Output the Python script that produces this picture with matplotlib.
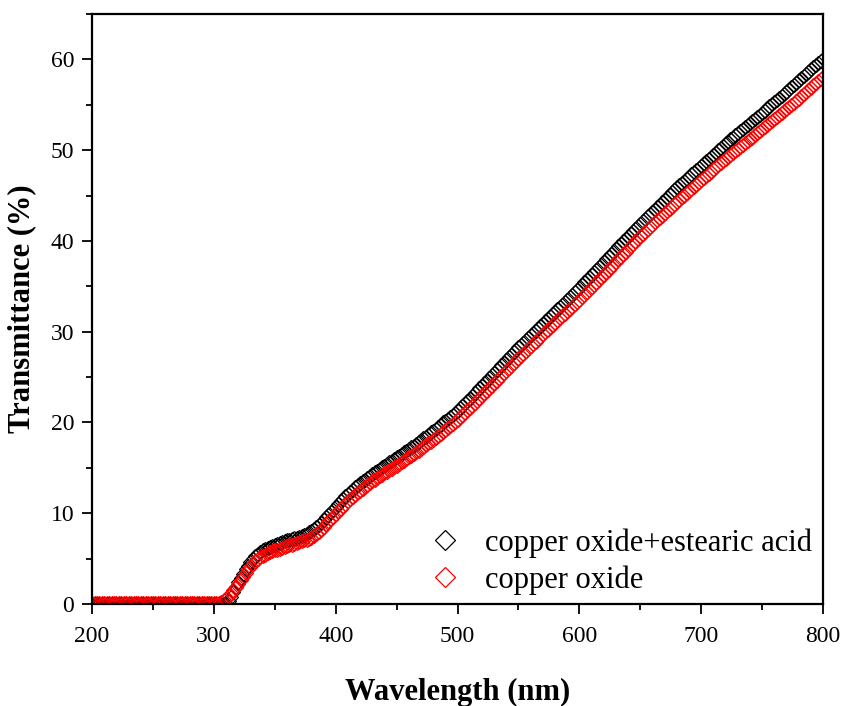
import numpy as np
import matplotlib
matplotlib.use("Agg")
from matplotlib import pyplot as plt
from matplotlib.ticker import MultipleLocator

plt.rcParams["font.family"] = "serif"
plt.rcParams["font.serif"] = ["Liberation Serif", "DejaVu Serif"]

# wavelength grid, 2 nm sampling (200 ... 800 nm)
wavelength = np.arange(200, 802, 2)

# copper oxide + estearic acid (black), one row = 20 nm
trans_cuo_sa = [
    0.0, 0.0, 0.0, 0.0, 0.0, 0.0, 0.0, 0.0, 0.0, 0.0,
    0.0, 0.0, 0.0, 0.0, 0.0, 0.0, 0.0, 0.0, 0.0, 0.0,
    0.0, 0.0, 0.0, 0.0, 0.0, 0.0, 0.0, 0.0, 0.0, 0.0,
    0.0, 0.0, 0.0, 0.0, 0.0, 0.0, 0.0, 0.0, 0.0, 0.0,
    0.0, 0.0, 0.0, 0.0, 0.0, 0.0, 0.0, 0.0, 0.0, 0.0,
    0.0, 0.0, 0.0, 0.0, 0.0, 0.05, 0.3, 0.8, 1.3, 1.85,
    2.4, 2.9, 3.35, 3.8, 4.2, 4.6, 4.95, 5.25, 5.5, 5.7,
    5.9, 6.05, 6.2, 6.3, 6.4, 6.5, 6.6, 6.7, 6.8, 6.9,
    7.0, 7.1, 7.15, 7.25, 7.3, 7.4, 7.5, 7.6, 7.75, 7.9,
    8.05, 8.25, 8.45, 8.7, 8.95, 9.25, 9.55, 9.85, 10.1, 10.4,
    10.7, 11.0, 11.3, 11.6, 11.85, 12.1, 12.35, 12.6, 12.85, 13.1,
    13.3, 13.5, 13.7, 13.9, 14.1, 14.3, 14.5, 14.7, 14.9, 15.05,
    15.25, 15.4, 15.6, 15.8, 16.0, 16.15, 16.3, 16.5, 16.7, 16.85,
    17.05, 17.25, 17.45, 17.65, 17.85, 18.05, 18.25, 18.45, 18.65, 18.9,
    19.1, 19.3, 19.55, 19.75, 20.0, 20.2, 20.4, 20.65, 20.85, 21.1,
    21.3, 21.55, 21.85, 22.1, 22.35, 22.6, 22.9, 23.2, 23.45, 23.75,
    24.05, 24.3, 24.6, 24.9, 25.2, 25.5, 25.75, 26.05, 26.35, 26.6,
    26.9, 27.2, 27.45, 27.75, 28.0, 28.3, 28.55, 28.8, 29.1, 29.35,
    29.6, 29.85, 30.1, 30.4, 30.65, 30.9, 31.15, 31.4, 31.7, 31.95,
    32.2, 32.5, 32.75, 33.0, 33.3, 33.55, 33.8, 34.05, 34.35, 34.6,
    34.85, 35.15, 35.45, 35.7, 36.0, 36.3, 36.6, 36.85, 37.15, 37.4,
    37.7, 38.0, 38.25, 38.55, 38.8, 39.1, 39.4, 39.65, 39.95, 40.2,
    40.5, 40.8, 41.05, 41.35, 41.6, 41.9, 42.15, 42.4, 42.7, 42.95,
    43.2, 43.45, 43.75, 44.0, 44.3, 44.55, 44.8, 45.1, 45.35, 45.65,
    45.9, 46.15, 46.4, 46.6, 46.85, 47.1, 47.35, 47.6, 47.8, 48.05,
    48.3, 48.55, 48.8, 49.0, 49.25, 49.5, 49.75, 50.0, 50.25, 50.5,
    50.75, 50.95, 51.2, 51.4, 51.65, 51.85, 52.1, 52.3, 52.55, 52.75,
    53.0, 53.2, 53.45, 53.65, 53.9, 54.1, 54.35, 54.6, 54.85, 55.1,
    55.35, 55.55, 55.8, 56.0, 56.25, 56.45, 56.7, 56.95, 57.2, 57.45,
    57.7, 57.95, 58.2, 58.4, 58.65, 58.9, 59.15, 59.4, 59.6, 59.85,
    60.1,
]

# copper oxide (red)
trans_cuo = [
    0.1, 0.1, 0.1, 0.1, 0.1, 0.1, 0.1, 0.1, 0.1, 0.1,
    0.1, 0.1, 0.1, 0.1, 0.1, 0.1, 0.1, 0.1, 0.1, 0.1,
    0.1, 0.1, 0.1, 0.1, 0.1, 0.1, 0.1, 0.1, 0.1, 0.1,
    0.1, 0.1, 0.1, 0.1, 0.1, 0.1, 0.1, 0.1, 0.1, 0.1,
    0.1, 0.1, 0.1, 0.1, 0.1, 0.1, 0.1, 0.1, 0.1, 0.1,
    0.1, 0.1, 0.15, 0.25, 0.4, 0.6, 0.9, 1.2, 1.55, 1.9,
    2.2, 2.6, 3.0, 3.4, 3.8, 4.1, 4.4, 4.7, 4.95, 5.15,
    5.3, 5.45, 5.6, 5.7, 5.8, 5.9, 6.0, 6.1, 6.2, 6.3,
    6.4, 6.5, 6.55, 6.65, 6.7, 6.8, 6.9, 7.0, 7.1, 7.2,
    7.3, 7.5, 7.7, 7.95, 8.2, 8.5, 8.8, 9.1, 9.35, 9.6,
    9.9, 10.2, 10.5, 10.8, 11.05, 11.3, 11.55, 11.8, 12.05, 12.3,
    12.5, 12.7, 12.9, 13.1, 13.3, 13.5, 13.7, 13.85, 14.05, 14.2,
    14.4, 14.55, 14.75, 14.9, 15.1, 15.25, 15.4, 15.6, 15.8, 15.95,
    16.15, 16.35, 16.55, 16.7, 16.9, 17.1, 17.3, 17.5, 17.7, 17.9,
    18.1, 18.3, 18.55, 18.75, 19.0, 19.2, 19.4, 19.65, 19.85, 20.1,
    20.3, 20.55, 20.8, 21.1, 21.35, 21.6, 21.85, 22.15, 22.4, 22.7,
    22.95, 23.2, 23.5, 23.75, 24.05, 24.3, 24.6, 24.85, 25.15, 25.4,
    25.7, 26.0, 26.25, 26.55, 26.8, 27.1, 27.35, 27.6, 27.9, 28.15,
    28.4, 28.65, 28.9, 29.2, 29.45, 29.7, 29.95, 30.2, 30.5, 30.75,
    31.0, 31.25, 31.5, 31.75, 32.0, 32.25, 32.5, 32.75, 33.05, 33.3,
    33.55, 33.8, 34.1, 34.35, 34.65, 34.9, 35.2, 35.45, 35.75, 36.0,
    36.3, 36.6, 36.85, 37.15, 37.4, 37.7, 38.0, 38.25, 38.55, 38.8,
    39.1, 39.4, 39.65, 39.95, 40.2, 40.5, 40.75, 41.0, 41.3, 41.55,
    41.8, 42.05, 42.3, 42.55, 42.8, 43.05, 43.3, 43.55, 43.8, 44.05,
    44.3, 44.55, 44.8, 45.0, 45.25, 45.5, 45.75, 46.0, 46.2, 46.45,
    46.7, 46.95, 47.2, 47.4, 47.65, 47.9, 48.15, 48.4, 48.6, 48.85,
    49.05, 49.25, 49.5, 49.7, 49.95, 50.15, 50.35, 50.55, 50.8, 51.0,
    51.2, 51.4, 51.65, 51.85, 52.1, 52.3, 52.55, 52.75, 53.0, 53.2,
    53.45, 53.65, 53.9, 54.1, 54.35, 54.55, 54.8, 55.0, 55.25, 55.45,
    55.7, 55.95, 56.2, 56.4, 56.65, 56.9, 57.15, 57.4, 57.6, 57.85,
    58.1,
]

labels = ["copper oxide+estearic acid", "copper oxide"]
colors = ["black", "red"]

fig = plt.figure(figsize=(8.45, 7.06), dpi=100)
ax = fig.add_axes([0.109, 0.1445, 0.865, 0.8355])

for y, lab, col in zip([trans_cuo_sa, trans_cuo], labels, colors):
    ax.plot(wavelength, y, linestyle="none", marker="D", markersize=7.3,
            markerfacecolor="none", markeredgecolor=col, markeredgewidth=0.85,
            label=lab)

ax.set_xlim(200, 800)
ax.set_ylim(0, 65)
ax.xaxis.set_major_locator(MultipleLocator(100))
ax.xaxis.set_minor_locator(MultipleLocator(50))
ax.yaxis.set_major_locator(MultipleLocator(10))
ax.yaxis.set_minor_locator(MultipleLocator(5))

for s in ax.spines.values():
    s.set_linewidth(1.6)
ax.tick_params(which="major", direction="out", length=7, width=1.3, labelsize=17)
ax.tick_params(which="minor", direction="out", length=4, width=1.3)
ax.tick_params(axis="x", which="major", pad=9)
ax.tick_params(axis="y", which="major", pad=6)

ax.set_xlabel("Wavelength (nm)", fontsize=22, fontweight="bold", labelpad=22)
ax.set_ylabel("Transmittance (%)", fontsize=22, fontweight="bold", labelpad=10)

leg = ax.legend(loc="upper left", bbox_to_anchor=(0.462, 0.128), frameon=False,
                fontsize=22, handlelength=1.0, handletextpad=0.8,
                labelspacing=0.25, borderpad=0, borderaxespad=0)
for h in leg.legend_handles:
    h.set_markersize(10)
    h.set_markeredgewidth(0.9)

fig.savefig("out.png", dpi=100)
